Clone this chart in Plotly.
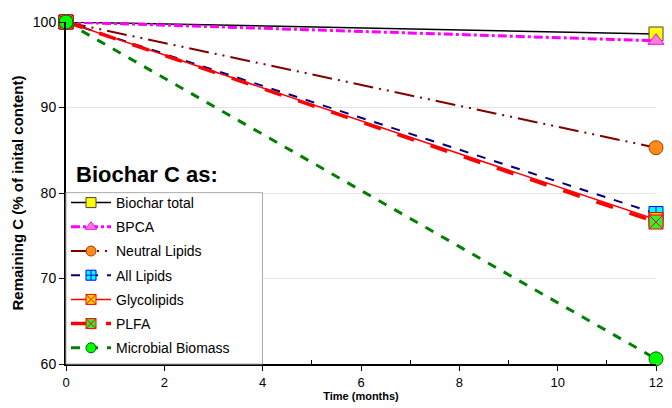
import plotly.graph_objects as go

months = [0, 12]
series_names = ["Biochar total", "BPCA", "Neutral Lipids", "All Lipids", "Glycolipids", "PLFA", "Microbial Biomass"]
biochar_total = [100, 98.6]
bpca = [100, 97.8]
neutral_lipids = [100, 85.3]
all_lipids = [100, 77.6]
glycolipids = [100, 76.9]
plfa = [100, 76.6]
microbial_biomass = [100, 60.6]
x_ticks = [0, 2, 4, 6, 8, 10, 12]
y_ticks = [60, 70, 80, 90, 100]

styles = [
    dict(lc="black", lw=1.5, dash="solid", sym="square", mc="#ffff00", ml="#444444"),
    dict(lc="#ff00ff", lw=3, dash="dashdot", sym="triangle-up", mc="#ff80d0", ml="#ff00ff"),
    dict(lc="#800000", lw=2, dash="20px,6px,2px,6px,2px,6px", sym="circle", mc="#ff8c1a", ml="#a04000"),
    dict(lc="#000080", lw=2, dash="dash", sym="square-cross", mc="#00ffff", ml="#0000ff"),
    dict(lc="#ff0000", lw=1.5, dash="solid", sym="square-x", mc="#ffd700", ml="#ff0000"),
    dict(lc="#ff0000", lw=3.5, dash="longdash", sym="square-x", mc="#33ee33", ml="#ff0000"),
    dict(lc="#008000", lw=3, dash="dash", sym="circle", mc="#00ff00", ml="#006000"),
]
values = [biochar_total, bpca, neutral_lipids, all_lipids, glycolipids, plfa, microbial_biomass]

fig = go.Figure()
for i, (name, vals, st) in enumerate(zip(series_names, values, styles)):
    fig.add_trace(go.Scatter(
        x=months, y=vals, name=name, mode="lines+markers",
        line=dict(color=st["lc"], width=st["lw"], dash=st["dash"]),
        marker=dict(symbol=st["sym"], size=14, color=st["mc"], line=dict(color=st["ml"], width=1)),
        cliponaxis=False, showlegend=False,
    ))
for i, (name, st) in enumerate(zip(series_names, styles)):
    fig.add_trace(go.Scatter(
        x=[None], y=[None], name=name, mode="lines+markers",
        line=dict(color=st["lc"], width=st["lw"], dash="solid" if i in (0, 4) else st["dash"]),
        marker=dict(symbol=st["sym"], size=10, color=st["mc"], line=dict(color=st["ml"], width=1)),
        legendgroup="g%d" % i,
    ))

fig.update_layout(
    width=672, height=408,
    margin=dict(l=66, r=9, t=22, b=39),
    paper_bgcolor="white", plot_bgcolor="white",
    font=dict(family="Liberation Sans, Arial", color="black"),
    showlegend=True,
    legend=dict(x=0, y=0, xanchor="left", yanchor="bottom", bgcolor="rgba(0,0,0,0)",
                borderwidth=0, font=dict(size=14), tracegroupgap=3, itemwidth=40),
    shapes=[dict(type="rect", xref="paper", yref="paper", x0=0, x1=0.333, y0=0, y1=0.501,
                 fillcolor="white", line=dict(color="#aaaaaa", width=1), layer="above")],
    annotations=[dict(text="<b>Biochar C as:</b>", x=0.014, y=0.553, xref="paper", yref="paper",
                      xanchor="left", yanchor="middle", showarrow=False, font=dict(size=22))],
)
fig.update_xaxes(range=[0, 12], tickvals=x_ticks, showgrid=False, showline=True, linecolor="black",
                 linewidth=2, ticks="outside", ticklen=5, tickcolor="black", tickfont=dict(size=13),
                 title=dict(text="<b>Time (months)</b>", font=dict(size=11), standoff=2),
                 minor=dict(tickvals=[1, 3, 5, 7, 9, 11], ticks="inside", ticklen=4, tickcolor="black"),
                 zeroline=False)
fig.update_yaxes(range=[60, 100], tickvals=y_ticks, showgrid=True, gridcolor="#e3e3e3", showline=True,
                 linecolor="black", linewidth=2, ticks="outside", ticklen=5, tickcolor="black",
                 tickfont=dict(size=14), title=dict(text="<b>Remaining C (% of inital content)</b>",
                 font=dict(size=15), standoff=6), zeroline=False)

fig.write_html("out.html")
